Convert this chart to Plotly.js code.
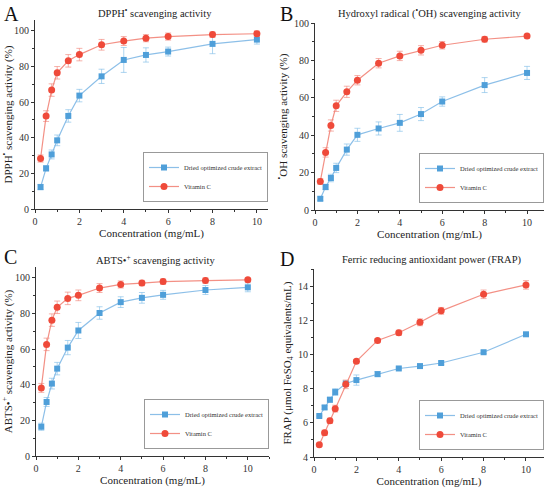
<!DOCTYPE html>
<html><head><meta charset="utf-8">
<script src="https://cdn.plot.ly/plotly-3.0.1.min.js"></script>
<style>body{margin:0;padding:0;background:#fff}#chart{width:550px;height:488px}</style>
</head><body><div id="chart"></div>
<script>
const concentration = [0.25, 0.5, 0.75, 1, 1.5, 2, 3, 4, 5, 6, 8, 10];

const dpphExtract = [12.3, 22.8, 30.6, 38.5, 52.2, 63.6, 74.4, 83.6, 86.4, 88.3, 92.6, 95.0];
const dpphExtractErr = [1.5, 1.5, 2.5, 3, 3.5, 3.5, 4, 7, 4, 2.5, 5.5, 2.5];
const dpphVitC = [28.3, 52.1, 66.7, 76.4, 83.1, 86.6, 92.1, 94.2, 95.8, 96.7, 97.8, 98.3];
const dpphVitCErr = [2, 3, 3.5, 3.5, 3.5, 3.5, 3, 2.5, 2, 2, 1.5, 1.5];

const ohExtract = [6.0, 12.3, 17.1, 22.5, 32.3, 40.2, 43.6, 46.6, 51.3, 58.0, 66.8, 73.3];
const ohExtractErr = [1, 1.5, 2, 2.5, 3, 3.5, 3.5, 4.5, 3.5, 2.5, 4, 3.5];
const ohVitC = [15.3, 30.8, 45.2, 55.7, 63.2, 69.4, 78.5, 82.4, 85.4, 88.1, 91.3, 93.0];
const ohVitCErr = [1.5, 2.5, 3, 3, 3, 2.5, 2.5, 2.5, 2.5, 2, 1.5, 1];

const abtsExtract = [16.4, 30.3, 40.6, 49.0, 60.8, 70.4, 80.2, 86.3, 88.7, 90.4, 93.1, 94.6];
const abtsExtractErr = [2, 2.5, 3, 3.5, 4, 4.5, 3.5, 3, 3, 2.5, 2.5, 2.5];
const abtsVitC = [38.2, 62.6, 76.2, 83.4, 88.4, 90.1, 94.2, 96.2, 97.0, 97.8, 98.4, 98.8];
const abtsVitCErr = [2.5, 3.5, 3.5, 3.5, 3.5, 3, 2.5, 2, 1.5, 1.5, 1.5, 1];

const frapExtract = [6.4, 6.9, 7.35, 7.8, 8.3, 8.5, 8.85, 9.18, 9.32, 9.5, 10.13, 11.18];
const frapExtractErr = [0.05, 0.1, 0.15, 0.2, 0.15, 0.3, 0.15, 0.08, 0.08, 0.08, 0.08, 0.08];
const frapVitC = [4.72, 5.42, 6.12, 6.83, 8.25, 9.6, 10.82, 11.27, 11.88, 12.55, 13.52, 14.07];
const frapVitCErr = [0.1, 0.15, 0.15, 0.2, 0.25, 0.1, 0.1, 0.15, 0.2, 0.2, 0.25, 0.25];

const seriesNames = ['Dried optimized crude extract', 'Vitamin C'];
const panelTitles = ['DPPH<sup>•</sup> scavenging activity', 'Hydroxyl radical (<sup>•</sup>OH) scavenging activity',
  'ABTS•<sup>+</sup> scavenging activity', 'Ferric reducing antioxidant power (FRAP)'];
const yTitles = ['DPPH<sup>•</sup> scavenging activity (%)', '<sup>•</sup>OH scavenging activity (%)',
  'ABTS•<sup>+</sup> scavenging activity (%)', 'FRAP (μmol FeSO<sub>4</sub> equivalents/mL)'];
const xTitle = 'Concentration (mg/mL)';
const panelLetters = ['A', 'B', 'C', 'D'];

const W = 550, H = 488;
const FONT = 'Liberation Serif';
const BLUE = '#4f9fd9', BLUE_L = 'rgba(120,180,228,0.85)', BLUE_E = 'rgba(130,190,232,0.65)';
const RED = '#ef4a3a', RED_L = 'rgba(241,125,112,0.85)', RED_E = 'rgba(241,135,125,0.65)';

const panels = [
  {ext: dpphExtract, extE: dpphExtractErr, vc: dpphVitC, vcE: dpphVitCErr, px: [35, 268], py: [20, 209], yr: [0, 106], dt: 20, xr: [0, 10.5]},
  {ext: ohExtract, extE: ohExtractErr, vc: ohVitC, vcE: ohVitCErr, px: [315, 544], py: [23, 210], yr: [0, 100], dt: 20, xr: [0, 10.8]},
  {ext: abtsExtract, extE: abtsExtractErr, vc: abtsVitC, vcE: abtsVitCErr, px: [36, 269], py: [267, 456], yr: [0, 106], dt: 20, xr: [0, 11]},
  {ext: frapExtract, extE: frapExtractErr, vc: frapVitC, vcE: frapVitCErr, px: [314, 544], py: [269, 457], yr: [4, 15], dt: 2, xr: [0, 10.85]}
];
const titlePos = [[155, 12], [430, 13], [155, 259], [432, 260]];
const letterPos = [[2, 1], [278, 1], [2, 244], [278, 246]];

const data = [];
const layout = {width: W, height: H, margin: {l: 0, r: 0, t: 0, b: 0}, showlegend: true,
  paper_bgcolor: '#fff', plot_bgcolor: '#fff', font: {family: FONT, color: '#222'}, annotations: []};

panels.forEach((p, i) => {
  const n = i + 1;
  const xa = 'x' + (n === 1 ? '' : n), ya = 'y' + (n === 1 ? '' : n);
  const leg = 'legend' + (n === 1 ? '' : n);
  data.push({x: concentration, y: p.ext, xaxis: xa, yaxis: ya, legend: leg, name: seriesNames[0], type: 'scatter', mode: 'lines+markers',
    line: {color: BLUE_L, width: 1.2}, marker: {symbol: 'square', size: 6, color: BLUE},
    error_y: {type: 'data', array: p.extE, visible: true, color: BLUE_E, thickness: 1, width: 3}});
  data.push({x: concentration, y: p.vc, xaxis: xa, yaxis: ya, legend: leg, name: seriesNames[1], type: 'scatter', mode: 'lines+markers',
    line: {color: RED_L, width: 1.2}, marker: {symbol: 'circle', size: 7, color: RED},
    error_y: {type: 'data', array: p.vcE, visible: true, color: RED_E, thickness: 1, width: 3}});
  const axBase = {showgrid: false, zeroline: false, showline: true, linecolor: '#333', linewidth: 1,
    ticks: 'outside', ticklen: 3, tickcolor: '#333', tickfont: {size: 10, family: FONT, color: '#333'}};
  layout['xaxis' + (n === 1 ? '' : n)] = Object.assign({}, axBase, {
    domain: [p.px[0] / W, p.px[1] / W], range: p.xr, anchor: ya, dtick: 2, tick0: 0,
    minor: {ticks: 'outside', ticklen: 2, tickcolor: '#333', dtick: 1},
    title: {text: xTitle, font: {size: 11, family: FONT, color: '#222'}, standoff: 0}});
  layout['yaxis' + (n === 1 ? '' : n)] = Object.assign({}, axBase, {
    domain: [1 - p.py[1] / H, 1 - p.py[0] / H], range: p.yr, anchor: xa, dtick: p.dt, tick0: 0,
    minor: {ticks: 'outside', ticklen: 2, tickcolor: '#333', dtick: p.dt / 2},
    title: {text: yTitles[i], font: {size: 11, family: FONT, color: '#222'}, standoff: 4}});
  layout[leg] = {x: p.px[1] / W, y: 1 - (p.py[1] - 7) / H, xanchor: 'right', yanchor: 'bottom',
    bordercolor: '#999', borderwidth: 1, bgcolor: '#fff', font: {size: 6.5, family: FONT, color: '#333'},
    itemwidth: 30, tracegroupgap: 0};
  layout.annotations.push({xref: 'paper', yref: 'paper', x: titlePos[i][0] / W, y: 1 - titlePos[i][1] / H,
    text: panelTitles[i], showarrow: false, xanchor: 'center', yanchor: 'middle', font: {size: 10.5, family: FONT, color: '#222'}});
  layout.annotations.push({xref: 'paper', yref: 'paper', x: letterPos[i][0] / W, y: 1 - letterPos[i][1] / H,
    text: panelLetters[i], showarrow: false, xanchor: 'left', yanchor: 'top', font: {size: 20, family: FONT, color: '#111'}});
});

Plotly.newPlot('chart', data, layout, {displayModeBar: false, staticPlot: true});
</script></body></html>
